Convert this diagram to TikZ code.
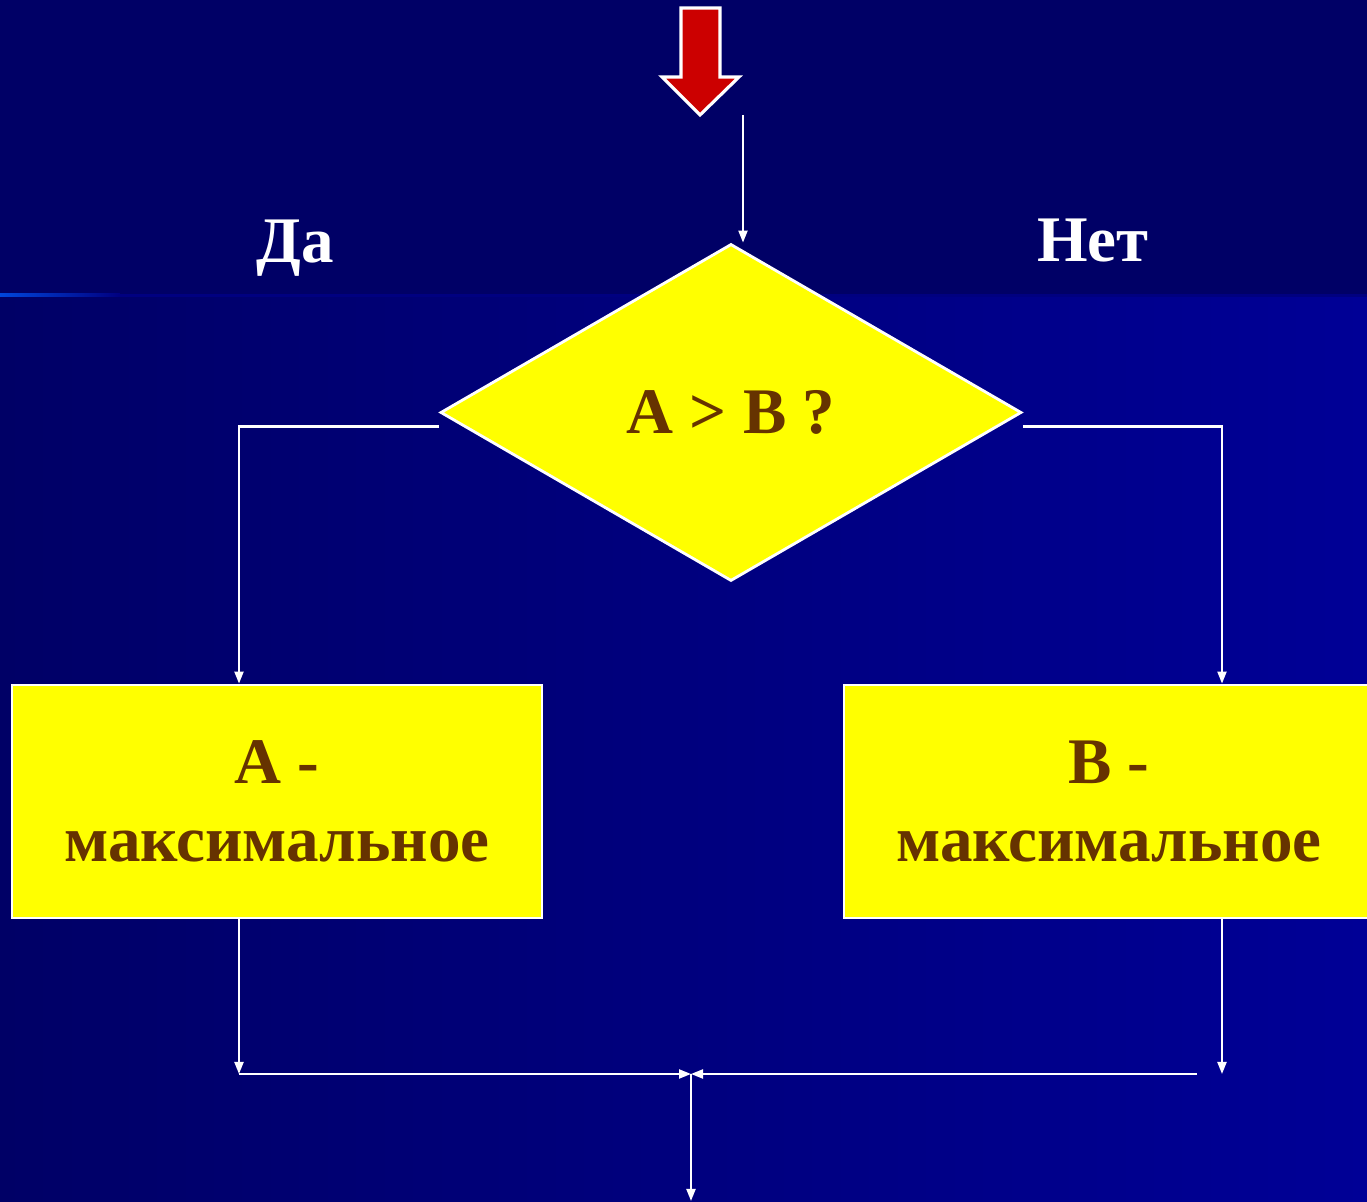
\documentclass[tikz,border=0pt]{standalone}
\usepackage{fontspec}
\setmainfont{Liberation Serif}
\usetikzlibrary{shapes.geometric,arrows.meta}
\definecolor{navy}{RGB}{0,0,102}
\definecolor{deepblue}{RGB}{0,0,150}
\definecolor{brightline}{RGB}{0,70,220}
\definecolor{lemon}{RGB}{255,255,0}
\definecolor{brown}{RGB}{102,51,0}
\definecolor{redarrow}{RGB}{204,0,0}
\begin{document}
\begin{tikzpicture}[
  flow/.style={draw=white, line width=0.6pt, -{Triangle[width=0.9mm,length=1.2mm]}},
  block/.style={draw=white, line width=0.8pt, fill=lemon, text=brown, align=center,
    minimum width=5.30cm, minimum height=2.33cm, inner sep=0pt,
    font=\fontsize{18.5}{21.5}\selectfont\bfseries},
  label/.style={text=white, font=\fontsize{18.5}{21.5}\selectfont\bfseries, anchor=base}
]
\useasboundingbox (0,0) rectangle (13.67,-12.02);
% background
\fill[navy] (0,0) rectangle (13.67,-2.95);
\shade[left color=navy, right color=deepblue] (0,-2.95) rectangle (13.67,-12.02);
\shade[left color=brightline, right color=deepblue!85!black] (0,-2.94) rectangle (1.2,-2.97);
\fill[deepblue!85!black] (1.2,-2.94) rectangle (13.67,-2.97);
% entry arrow
\draw[fill=redarrow, draw=white, line width=0.9pt, line join=miter]
  (6.81,-0.08) -- (7.20,-0.08) -- (7.20,-0.77) -- (7.39,-0.77) -- (7.00,-1.15)
  -- (6.62,-0.77) -- (6.81,-0.77) -- cycle;
\coordinate (in) at (7.43,-1.15);
% nodes
\node[diamond, draw=white, line width=0.8pt, fill=lemon, text=brown, inner sep=0pt,
  minimum width=5.81cm, minimum height=3.37cm,
  font=\fontsize{18.5}{21.5}\selectfont\bfseries] (dia) at (7.31,-4.125) {\raisebox{-0.8mm}{A > B ?}};
\node[block] (maxa) at (2.77,-8.015) {\raisebox{-0.4mm}{A -}\\[0.6mm]максимальное};
\node[block] (maxb) at (11.09,-8.015) {\raisebox{-0.4mm}{B -}\\[0.6mm]максимальное};
\node[label] (yes) at (2.95,-2.63) {Да};
\node[label] (no) at (10.93,-2.62) {Нет};
\coordinate (join) at (6.91,-10.74);
\coordinate (out) at (6.91,-12.01);
% connectors
\draw[flow] (in) -- (in |- dia.north);
\draw[flow] ([yshift=-1.4mm]dia.west) -| ([xshift=-3.8mm]maxa.north);
\draw[flow] ([yshift=-1.4mm]dia.east) -| ([xshift=1.13cm]maxb.north);
\draw[flow] ([xshift=-3.8mm]maxa.south) -- ([xshift=-3.8mm]maxa.south |- join);
\draw[flow] ([xshift=1.13cm]maxb.south) -- ([xshift=1.13cm]maxb.south |- join);
\draw[flow] ([xshift=-3.8mm]maxa.south |- join) -- (join);
\draw[flow] (join -| 11.97,0) -- (join);
\draw[flow] (join) -- (out);
\end{tikzpicture}
\end{document}
